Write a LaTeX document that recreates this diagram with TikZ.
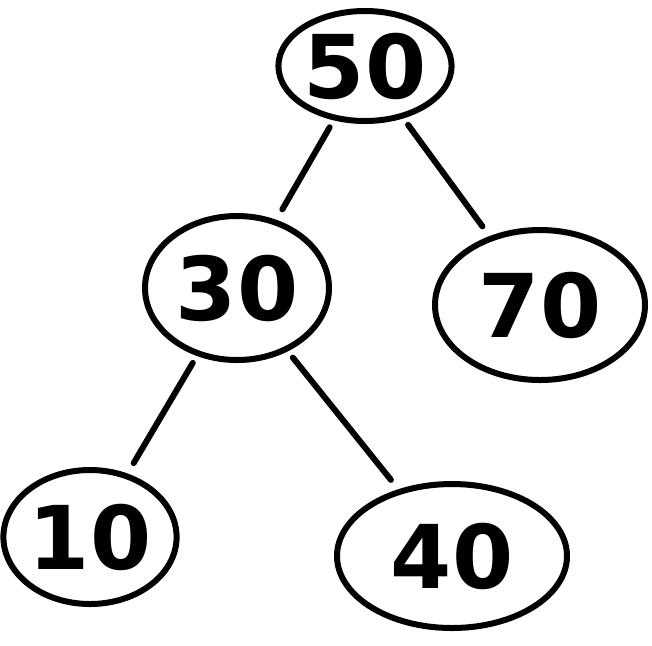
\documentclass[tikz,border=0pt]{standalone}
\usepackage{fontspec}
\setmainfont{DejaVu Sans}
\usetikzlibrary{shapes.geometric}
\begin{document}
\begin{tikzpicture}[x=0.5pt,y=-0.5pt,
  tnode/.style={ellipse,draw=black,line width=3pt,inner sep=0pt,
    font=\fontsize{44}{44}\selectfont\bfseries},
  edge/.style={draw=black,line width=3pt,line cap=round,shorten <=4pt,shorten >=6pt}]
\useasboundingbox (0,0) rectangle (652,645);
\node[tnode,minimum width=82pt,minimum height=55pt] (n50) at (365,66) {50};
\node[tnode,minimum width=92pt,minimum height=72pt] (n30) at (237,288) {30};
\node[tnode,minimum width=105pt,minimum height=75pt] (n70) at (540,305) {70};
\node[tnode,minimum width=75pt,minimum height=67pt] (n10) at (90,537) {10};
\node[tnode,minimum width=115pt,minimum height=72pt] (n40) at (452,556) {40};
\draw[edge] (n50) -- (n30);
\draw[edge] (n50) -- (n70);
\draw[edge] (n30) -- (n10);
\draw[edge] (n30) -- (n40);
\end{tikzpicture}
\end{document}
